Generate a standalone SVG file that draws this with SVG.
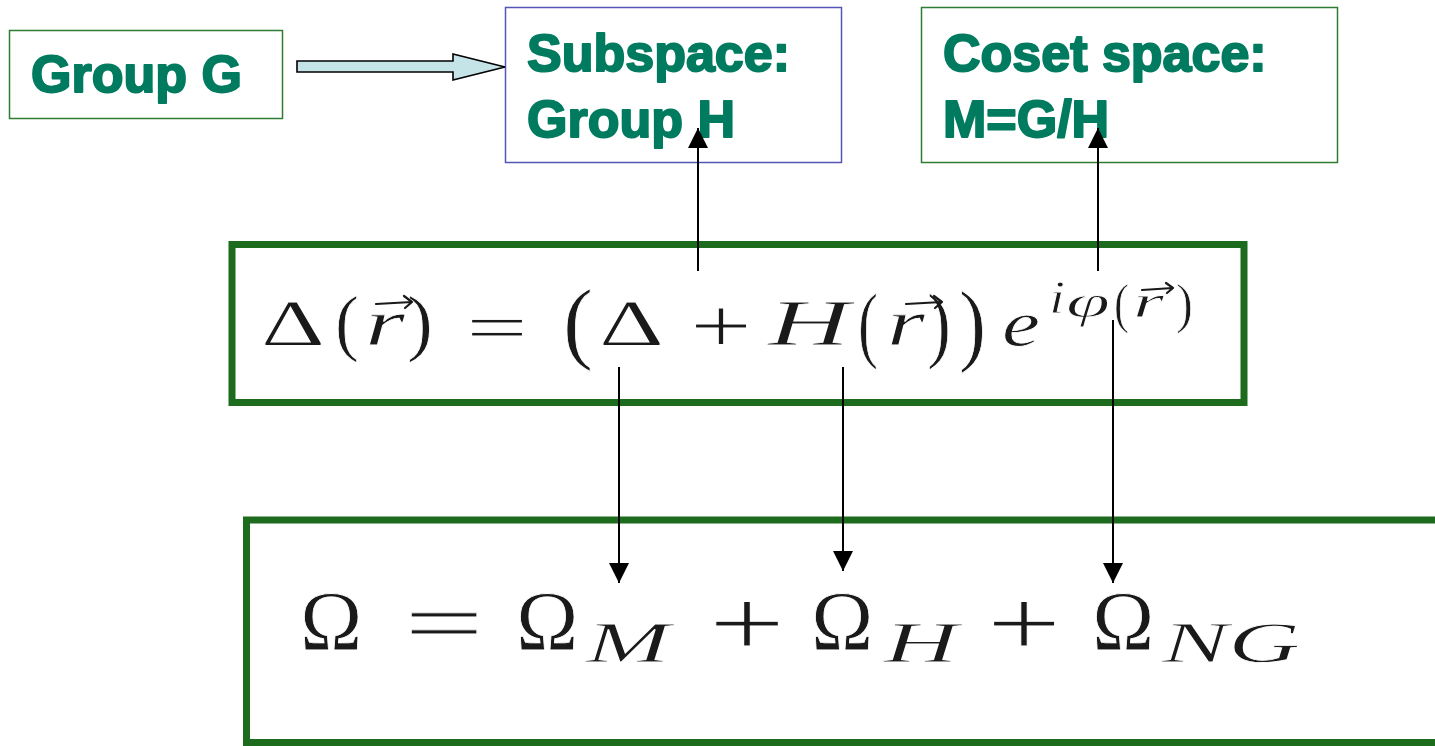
<svg xmlns="http://www.w3.org/2000/svg" width="1435" height="746" viewBox="0 0 1435 746">
<style>
.lbl{font-family:"Liberation Sans",Arial,sans-serif;font-weight:bold;font-size:52px;fill:#007b5f;stroke:#007b5f;stroke-width:2px;stroke-linejoin:round}
.m{font-family:"Liberation Serif","Times New Roman",serif;fill:#1a1a1a;stroke:#fff;stroke-width:0.8px}
.i{font-style:italic}
.vec{stroke:#1a1a1a;stroke-width:2.2;fill:none;stroke-linecap:round;stroke-linejoin:round}
.conn{stroke:#000;stroke-width:2;fill:none}
</style>
<defs>
<marker id="ah" markerUnits="userSpaceOnUse" markerWidth="20" markerHeight="20" refX="20" refY="10" orient="auto">
<path d="M0,0 L20,10 L0,20 Z" fill="#000"/>
</marker>
</defs>
<rect width="1435" height="746" fill="#fff"/>

<g id="groupG">
<rect x="9.5" y="30.5" width="273" height="88" fill="#fff" stroke="#2e7d32" stroke-width="1.5"/>
<text class="lbl" x="31" y="92">Group G</text>
</g>

<g id="subspace">
<rect x="505.5" y="7.5" width="336" height="155" fill="#fff" stroke="#5555b5" stroke-width="1.5"/>
<text class="lbl" x="527" y="71">Subspace:</text>
<text class="lbl" x="527" y="137">Group H</text>
</g>

<g id="coset">
<rect x="921.5" y="7.5" width="416" height="155" fill="#fff" stroke="#2e7d32" stroke-width="1.5"/>
<text class="lbl" x="943" y="71">Coset space:</text>
<text class="lbl" x="943" y="137">M=G/H</text>
</g>

<g id="eq1">
<rect x="232" y="244.5" width="1012" height="158" fill="#fff" stroke="#1d6b1d" stroke-width="7"/>
<g class="m">
<text x="261" y="345" font-size="66" textLength="64" lengthAdjust="spacingAndGlyphs">Δ</text>
<text x="335" y="347" font-size="74" textLength="24" lengthAdjust="spacingAndGlyphs">(</text>
<text class="i" x="365" y="345" font-size="66" textLength="40" lengthAdjust="spacingAndGlyphs">r</text>
<text x="407" y="347" font-size="74" textLength="26" lengthAdjust="spacingAndGlyphs">)</text>
<text x="466" y="350" font-size="66" textLength="62" lengthAdjust="spacingAndGlyphs">=</text>
<text x="563" y="352" font-size="90" textLength="30" lengthAdjust="spacingAndGlyphs">(</text>
<text x="599" y="345" font-size="66" textLength="65" lengthAdjust="spacingAndGlyphs">Δ</text>
<text x="690" y="352" font-size="78" textLength="62" lengthAdjust="spacingAndGlyphs">+</text>
<text class="i" x="768" y="345" font-size="66" textLength="82" lengthAdjust="spacingAndGlyphs">H</text>
<text x="858" y="352" font-size="84" textLength="20" lengthAdjust="spacingAndGlyphs">(</text>
<text class="i" x="887" y="345" font-size="66" textLength="38" lengthAdjust="spacingAndGlyphs">r</text>
<text x="927" y="352" font-size="84" textLength="24" lengthAdjust="spacingAndGlyphs">)</text>
<text x="959" y="354" font-size="90" textLength="27" lengthAdjust="spacingAndGlyphs">)</text>
<text class="i" x="1002" y="346" font-size="66" textLength="38" lengthAdjust="spacingAndGlyphs">e</text>
<text class="i" x="1049" y="313" font-size="46" textLength="16" lengthAdjust="spacingAndGlyphs">i</text>
<text class="i" x="1066" y="317" font-size="46" textLength="44" lengthAdjust="spacingAndGlyphs">φ</text>
<text x="1114" y="322" font-size="54" textLength="15" lengthAdjust="spacingAndGlyphs">(</text>
<text class="i" x="1133" y="317" font-size="46" textLength="31" lengthAdjust="spacingAndGlyphs">r</text>
<text x="1176" y="322" font-size="54" textLength="17" lengthAdjust="spacingAndGlyphs">)</text>
</g>
<path class="vec" d="M376,304 L412,302 M404,296 L412,302 L405,308"/>
<path class="vec" d="M906,304 L942,302 M934,296 L942,302 L935,308"/>
<path class="vec" stroke-width="1.8" d="M1142,290 L1173,288 M1166,283 L1173,288 L1167,293"/>
</g>

<g id="eq2">
<rect x="246.5" y="520" width="1200" height="222.5" fill="#fff" stroke="#1d6b1d" stroke-width="7"/>
<g class="m">
<text x="300" y="650" font-size="84">Ω</text>
<text x="404" y="652" font-size="84" textLength="80" lengthAdjust="spacingAndGlyphs">=</text>
<text x="516" y="650" font-size="84">Ω</text>
<text class="i" x="586" y="662" font-size="58" textLength="84" lengthAdjust="spacingAndGlyphs">M</text>
<text x="709" y="655" font-size="96" textLength="76" lengthAdjust="spacingAndGlyphs">+</text>
<text x="811" y="650" font-size="84">Ω</text>
<text class="i" x="884" y="662" font-size="58" textLength="74" lengthAdjust="spacingAndGlyphs">H</text>
<text x="987" y="655" font-size="96" textLength="74" lengthAdjust="spacingAndGlyphs">+</text>
<text x="1092" y="650" font-size="84">Ω</text>
<text class="i" x="1162" y="662" font-size="58" textLength="138" lengthAdjust="spacingAndGlyphs">NG</text>
</g>
</g>

<g id="connectors">
<polygon points="297,61 453,61 453,54 505,67 453,80 453,72 297,72" fill="#c5e4e8" stroke="#000" stroke-width="1.6" stroke-linejoin="miter"/>
<line class="conn" x1="698" y1="271" x2="698" y2="128" marker-end="url(#ah)"/>
<line class="conn" x1="1098" y1="271" x2="1098" y2="128" marker-end="url(#ah)"/>
<line class="conn" x1="619" y1="367" x2="619" y2="583" marker-end="url(#ah)"/>
<line class="conn" x1="843" y1="367" x2="843" y2="571" marker-end="url(#ah)"/>
<line class="conn" x1="1113" y1="320" x2="1113" y2="583" marker-end="url(#ah)"/>
</g>
</svg>
